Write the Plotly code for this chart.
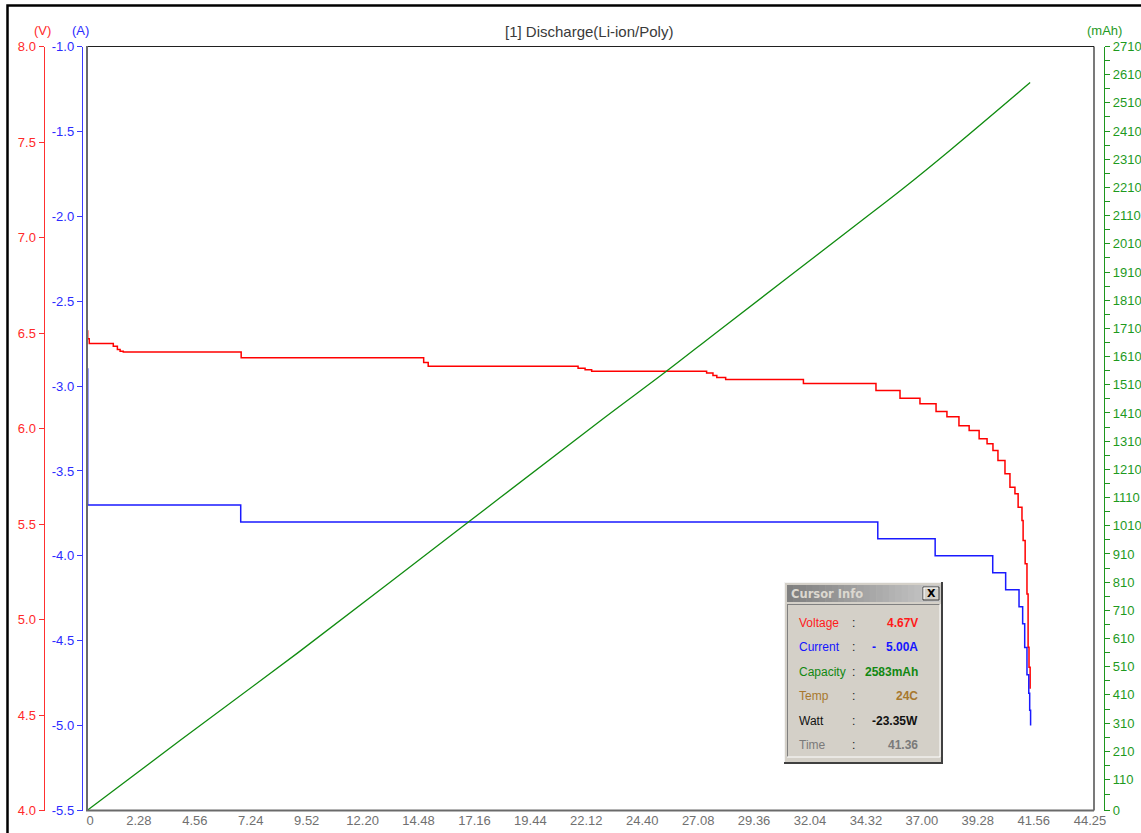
import plotly.graph_objects as go

W, H = 1141, 833

# ---------------- data ----------------
x_tick_labels = ["0", "2.28", "4.56", "7.24", "9.52", "12.20", "14.48", "17.16", "19.44",
                 "22.12", "24.40", "27.08", "29.36", "32.04", "34.32", "37.00", "39.28",
                 "41.56", "44.25"]

volt_tick_labels = ["4.0", "4.5", "5.0", "5.5", "6.0", "6.5", "7.0", "7.5", "8.0"]
curr_tick_labels = ["-5.5", "-5.0", "-4.5", "-4.0", "-3.5", "-3.0", "-2.5", "-2.0", "-1.5", "-1.0"]
cap_tick_labels = ["0", "110", "210", "310", "410", "510", "610", "710", "810", "910", "1010",
                   "1110", "1210", "1310", "1410", "1510", "1610", "1710", "1810", "1910",
                   "2010", "2110", "2210", "2310", "2410", "2510", "2610", "2710"]

# time in minutes
volt_time = [0, 0.03, 0.10, 1.16, 1.34, 1.46, 1.60, 6.80, 14.85, 15.05, 21.66, 21.97, 22.26,
             27.33, 27.61, 27.78, 28.17, 31.60, 34.80, 35.86, 36.74, 37.45, 37.93, 38.46,
             38.91, 39.35, 39.70, 39.96, 40.18, 40.49, 40.71, 40.93, 41.07, 41.24, 41.29,
             41.38, 41.46, 41.51, 41.55, 41.60]
voltage = [6.51, 6.47, 6.445, 6.43, 6.414, 6.405, 6.40, 6.37, 6.345, 6.326, 6.316, 6.307, 6.300,
           6.290, 6.277, 6.267, 6.257, 6.235, 6.199, 6.159, 6.129, 6.089, 6.061, 6.014,
           5.990, 5.946, 5.920, 5.885, 5.832, 5.763, 5.693, 5.658, 5.588, 5.518, 5.414,
           5.292, 5.134, 4.855, 4.75, 4.637]

curr_time = [0, 0.03, 6.78, 34.88, 37.41, 39.95, 40.52, 41.11, 41.27, 41.36, 41.46, 41.54,
             41.58, 41.62]
current = [-2.90, -3.70, -3.80, -3.90, -4.00, -4.10, -4.20, -4.30, -4.40, -4.54, -4.70,
           -4.81, -4.91, -5.00]

cap_time = [0, 4.10, 9.31, 16.45, 22.72, 25.54, 27.88, 34.23, 36.01, 38.07, 41.60]
capacity = [0, 248, 560, 1000, 1387, 1557, 1703, 2096, 2207, 2342, 2582]

cursor_rows = [("Voltage", "4.67V", "#ff1a1a"),
               ("Current", "-\u00a0\u00a0 5.00A", "#1515ff"),
               ("Capacity", "2583mAh", "#118811"),
               ("Temp", "24C", "#a8782e"),
               ("Watt", "-23.35W", "#111111"),
               ("Time", "41.36", "#7a7a7a")]


def label_to_min(s):
    if "." not in s:
        return float(s)
    m, sec = s.split(".")
    return int(m) + int(sec) / 60.0


x_tick_vals = [label_to_min(s) for s in x_tick_labels]
# the "0" label sits right of its tick in the reference; pad it with no-break spaces
x_tick_text = [("\u00a0" * 4 + s) if s == "0" else s for s in x_tick_labels]
volt_tick_vals = [float(s) for s in volt_tick_labels]
curr_tick_vals = [float(s) for s in curr_tick_labels]
cap_tick_vals = [float(s) for s in cap_tick_labels]


def X(px):
    return px / W


def Y(py):
    return 1 - py / H


RED = "#ff2a2a"
BLUE = "#2b2bff"
GREEN = "#1e9a1e"
FONT = "Liberation Sans, Arial, sans-serif"

fig = go.Figure()
fig.add_trace(go.Scatter(x=volt_time, y=voltage, mode="lines", line=dict(color="#ff0000", width=1.5, shape="hv"),
                         yaxis="y", name="Voltage", showlegend=False))
fig.add_trace(go.Scatter(x=curr_time, y=current, mode="lines", line=dict(color="#1a1aff", width=1.5, shape="hv"),
                         yaxis="y2", name="Current", showlegend=False))
fig.add_trace(go.Scatter(x=cap_time, y=capacity, mode="lines", line=dict(color="#118c11", width=1.3, shape="spline", smoothing=1.0),
                         yaxis="y3", name="Capacity", showlegend=False))

ydom = [Y(810.5), Y(46.5)]
common_y = dict(domain=ydom, anchor="free", showgrid=False, zeroline=False, showline=True,
                ticks="outside", ticklen=5, tickwidth=1, linewidth=1, automargin=False,
                tickmode="array", fixedrange=True)

fig.update_layout(
    width=W, height=H, autosize=False,
    margin=dict(l=0, r=0, t=0, b=0, pad=0),
    template="none",
    paper_bgcolor="white", plot_bgcolor="white",
    showlegend=False,
    font=dict(family=FONT, size=13),
    xaxis=dict(domain=[X(87), X(1094)], range=[0, x_tick_vals[-1]], tickmode="array",
               tickvals=x_tick_vals, ticktext=x_tick_text, showgrid=False, zeroline=False,
               showline=False, ticks="", anchor="y", automargin=False, fixedrange=True,
               ticklabelshift=-4,
               tickfont=dict(family=FONT, size=13, color="#707070")),
    yaxis=dict(common_y, range=[4, 8], position=X(43.5), side="left",
               linecolor="#ff3030", tickcolor="#ff3030",
               tickvals=volt_tick_vals, ticktext=volt_tick_labels,
               tickfont=dict(family=FONT, size=13, color=RED)),
    yaxis2=dict(common_y, range=[-5.5, -1.0], position=X(81.8), side="left", overlaying="y",
                linecolor="#3a3aff", tickcolor="#3a3aff",
                tickvals=curr_tick_vals, ticktext=curr_tick_labels,
                tickfont=dict(family=FONT, size=13, color=BLUE)),
    yaxis3=dict(common_y, range=[0, 2710], position=X(1104.2), side="right", overlaying="y",
                linecolor="#1e961e", tickcolor="#1e961e",
                tickvals=cap_tick_vals, ticktext=cap_tick_labels,
                minor=dict(tickmode="array", tickvals=[55] + [160 + 100 * k for k in range(26)],
                           ticks="outside", ticklen=5, tickcolor="#1e961e", tickwidth=1),
                tickfont=dict(family=FONT, size=13, color=GREEN)),
)

shapes = []
# outer black window border
shapes.append(dict(type="rect", xref="paper", yref="paper", x0=X(7.5), x1=X(1150), y0=Y(845), y1=Y(5.5),
                   line=dict(color="black", width=2.5), fillcolor="rgba(0,0,0,0)", layer="below"))
# plot frame
shapes.append(dict(type="line", xref="paper", yref="paper", x0=X(87), x1=X(1094), y0=Y(46.5), y1=Y(46.5),
                   line=dict(color="#202020", width=1.2)))
shapes.append(dict(type="line", xref="paper", yref="paper", x0=X(1094), x1=X(1094), y0=Y(46.5), y1=Y(810.5),
                   line=dict(color="#202020", width=1.2)))
shapes.append(dict(type="line", xref="paper", yref="paper", x0=X(87), x1=X(87), y0=Y(46), y1=Y(811),
                   line=dict(color="#6a6a6a", width=2)))
shapes.append(dict(type="line", xref="paper", yref="paper", x0=X(86), x1=X(1094), y0=Y(810.5), y1=Y(810.5),
                   line=dict(color="#6a6a6a", width=2)))

# ---- Cursor Info window ----
bx0, bx1, by0, by1 = 784, 943, 582, 764
shapes.append(dict(type="rect", xref="paper", yref="paper", x0=X(bx0), x1=X(bx1), y0=Y(by1), y1=Y(by0),
                   fillcolor="#d4d0c8", line=dict(color="#d4d0c8", width=0)))
# 3d border
shapes.append(dict(type="line", xref="paper", yref="paper", x0=X(bx0), x1=X(bx1), y0=Y(by0 + 0.5), y1=Y(by0 + 0.5),
                   line=dict(color="#f4f4f4", width=1)))
shapes.append(dict(type="line", xref="paper", yref="paper", x0=X(bx0 + 0.5), x1=X(bx0 + 0.5), y0=Y(by0), y1=Y(by1),
                   line=dict(color="#f4f4f4", width=1)))
shapes.append(dict(type="line", xref="paper", yref="paper", x0=X(bx1 - 1), x1=X(bx1 - 1), y0=Y(by0), y1=Y(by1),
                   line=dict(color="#404040", width=2)))
shapes.append(dict(type="line", xref="paper", yref="paper", x0=X(bx0), x1=X(bx1), y0=Y(by1 - 1), y1=Y(by1 - 1),
                   line=dict(color="#404040", width=2)))
# title bar gradient
tb_x0, tb_x1, tb_y0, tb_y1 = 787, 940, 585, 602
n = 24
for i in range(n):
    f = i / (n - 1)
    g = int(128 + (200 - 128) * f)
    col = "rgb(%d,%d,%d)" % (g, g, g)
    xa = tb_x0 + (tb_x1 - tb_x0) * i / n
    xb = tb_x0 + (tb_x1 - tb_x0) * (i + 1) / n
    shapes.append(dict(type="rect", xref="paper", yref="paper", x0=X(xa), x1=X(xb + 0.5), y0=Y(tb_y1), y1=Y(tb_y0),
                       fillcolor=col, line=dict(width=0)))
# close button (raised)
shapes.append(dict(type="rect", xref="paper", yref="paper", x0=X(923), x1=X(939), y0=Y(600), y1=Y(587),
                   fillcolor="#d4d0c8", line=dict(color="#404040", width=1)))
shapes.append(dict(type="line", xref="paper", yref="paper", x0=X(923.5), x1=X(938), y0=Y(588), y1=Y(588),
                   line=dict(color="#ffffff", width=1)))
shapes.append(dict(type="line", xref="paper", yref="paper", x0=X(924), x1=X(924), y0=Y(588), y1=Y(599),
                   line=dict(color="#ffffff", width=1)))
# sunken inner panel
shapes.append(dict(type="line", xref="paper", yref="paper", x0=X(787), x1=X(940), y0=Y(604.5), y1=Y(604.5),
                   line=dict(color="#808080", width=1)))
shapes.append(dict(type="line", xref="paper", yref="paper", x0=X(787.5), x1=X(787.5), y0=Y(604), y1=Y(757),
                   line=dict(color="#808080", width=1)))
shapes.append(dict(type="line", xref="paper", yref="paper", x0=X(787), x1=X(940), y0=Y(757), y1=Y(757),
                   line=dict(color="#ffffff", width=1)))
shapes.append(dict(type="line", xref="paper", yref="paper", x0=X(940), x1=X(940), y0=Y(604), y1=Y(757),
                   line=dict(color="#ffffff", width=1)))

annotations = []
annotations.append(dict(text="[1] Discharge(Li-ion/Poly)", xref="paper", yref="paper", x=X(589), y=Y(32),
                        xanchor="center", yanchor="middle", showarrow=False,
                        font=dict(family=FONT, size=15, color="#3a3a3a")))
annotations.append(dict(text="(V)", xref="paper", yref="paper", x=X(42), y=Y(31), xanchor="center",
                        yanchor="middle", showarrow=False, font=dict(family=FONT, size=13, color=RED)))
annotations.append(dict(text="(A)", xref="paper", yref="paper", x=X(80), y=Y(31), xanchor="center",
                        yanchor="middle", showarrow=False, font=dict(family=FONT, size=13, color=BLUE)))
annotations.append(dict(text="(mAh)", xref="paper", yref="paper", x=X(1104.5), y=Y(31), xanchor="center",
                        yanchor="middle", showarrow=False, font=dict(family=FONT, size=13, color=GREEN)))
annotations.append(dict(text="<b>Cursor Info</b>", xref="paper", yref="paper", x=X(789), y=Y(593.5),
                        xanchor="left", yanchor="middle", showarrow=False,
                        font=dict(family="DejaVu Sans, sans-serif", size=11.5, color="#dcd8d0")))
annotations.append(dict(text="<b>X</b>", xref="paper", yref="paper", x=X(931), y=Y(593.5),
                        xanchor="center", yanchor="middle", showarrow=False,
                        font=dict(family="DejaVu Sans, sans-serif", size=11, color="black")))
row_y = [622.7, 646.7, 671.7, 695.7, 720.7, 745]
for (lab, val, col), ry in zip(cursor_rows, row_y):
    annotations.append(dict(text=lab, xref="paper", yref="paper", x=X(797), y=Y(ry), xanchor="left",
                            yanchor="middle", showarrow=False, font=dict(family=FONT, size=12, color=col)))
    annotations.append(dict(text=":", xref="paper", yref="paper", x=X(853), y=Y(ry), xanchor="center",
                            yanchor="middle", showarrow=False, font=dict(family=FONT, size=12, color="#222222")))
    annotations.append(dict(text="<b>%s</b>" % val, xref="paper", yref="paper", x=X(919.5), y=Y(ry),
                            xanchor="right", yanchor="middle", showarrow=False,
                            font=dict(family=FONT, size=12, color=col)))

fig.update_layout(shapes=shapes, annotations=annotations)

fig.write_html("out.html", config={"displayModeBar": False},
               post_script="document.body.style.margin='0';document.body.style.overflow='hidden';")
